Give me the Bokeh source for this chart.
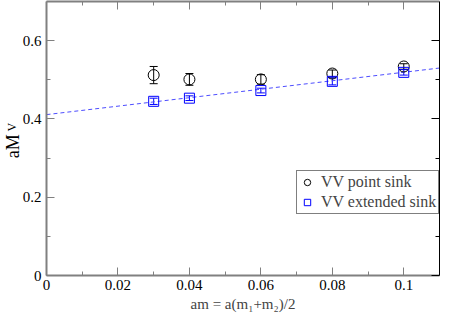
from bokeh.plotting import figure
from bokeh.models import (Range1d, LinearAxis, FixedTicker, Whisker, TeeHead,
                          ColumnDataSource, Legend, LegendItem)
from bokeh.embed import file_html
from bokeh.resources import INLINE

# ---- data ----
am = [0.03, 0.04, 0.06, 0.08, 0.10]
point_sink = [0.512, 0.501, 0.501, 0.516, 0.534]
point_err = [0.022, 0.015, 0.012, 0.009, 0.007]
ext_sink = [0.445, 0.453, 0.4725, 0.496, 0.519]
ext_err = [0.008, 0.006, 0.006, 0.009, 0.007]
fit_x = [0.0, 0.11]
fit_y = [0.411, 0.530]

x_major = [0.0, 0.02, 0.04, 0.06, 0.08, 0.10]
x_minor = [0.01, 0.03, 0.05, 0.07, 0.09]
x_labels = ["0", "0.02", "0.04", "0.06", "0.08", "0.1"]
y_major = [0.0, 0.2, 0.4, 0.6]
y_minor = [0.1, 0.3, 0.5]
y_labels = ["0", "0.2", "0.4", "0.6"]
legend_labels = ["VV point sink", "VV extended sink"]
x_title = "am = a(m\u2081+m\u2082)/2"
y_title_main = "aM"
y_title_sub = "V"

FONT = "Liberation Serif"
GRAY = "#808080"

# layout anchors for the two pieces of the y title (positions along y)
Y_MAIN_POS = 0.33
Y_SUB_POS = 0.379

p = figure(width=452, height=314, output_backend="svg", toolbar_location=None,
           x_range=Range1d(0, 0.11), y_range=Range1d(0, 0.7),
           x_axis_type=None, y_axis_type=None,
           min_border_left=46, min_border_right=13, min_border_top=1,
           min_border_bottom=39)
p.outline_line_color = None
p.xgrid.visible = False
p.ygrid.visible = False
p.background_fill_color = "white"
p.border_fill_color = "white"


def style_axis(ax, ticks, minor, labels, color, width, show_labels):
    ax.ticker = FixedTicker(ticks=ticks, minor_ticks=minor)
    ax.major_label_overrides = {t: l for t, l in zip(ticks, labels)}
    ax.axis_line_color = color
    ax.axis_line_width = width
    ax.major_tick_line_color = color
    ax.minor_tick_line_color = color
    ax.major_tick_in = 8
    ax.major_tick_out = 0
    ax.minor_tick_in = 4
    ax.minor_tick_out = 0
    ax.major_label_text_font = FONT
    if show_labels:
        ax.major_label_text_color = "black"
        ax.major_label_text_font_size = "15px"
        ax.major_label_standoff = 4
    else:
        ax.major_label_text_color = None
        ax.major_label_text_font_size = "0px"
        ax.major_label_standoff = 0


def text_axis(text, pos, size, standoff):
    ax = LinearAxis(ticker=FixedTicker(ticks=[pos], minor_ticks=[]))
    ax.major_label_overrides = {pos: text}
    ax.axis_line_color = None
    ax.major_tick_line_color = None
    ax.minor_tick_line_color = None
    ax.major_tick_out = 0
    ax.major_tick_in = 0
    ax.minor_tick_out = 0
    ax.minor_tick_in = 0
    ax.major_label_orientation = "parallel"
    ax.major_label_text_font = FONT
    ax.major_label_text_font_size = size
    ax.major_label_text_color = "black"
    ax.major_label_standoff = standoff
    return ax


bottom = LinearAxis()
style_axis(bottom, x_major, x_minor, x_labels, GRAY, 2, True)
bottom.axis_label = x_title
bottom.axis_label_text_font = FONT
bottom.axis_label_text_font_style = "normal"
bottom.axis_label_text_font_size = "15px"
bottom.axis_label_standoff = 3
p.add_layout(bottom, "below")

left = LinearAxis()
style_axis(left, y_major, y_minor, y_labels, GRAY, 2, True)
left.major_label_standoff = 5
p.add_layout(left, "left")
# subscript next to the tick labels, main text further out, overlapping bands
p.add_layout(text_axis(y_title_sub, Y_SUB_POS, "12px", 0), "left")
p.add_layout(text_axis(y_title_main, Y_MAIN_POS, "18px", -21), "left")

top = LinearAxis()
style_axis(top, x_major, x_minor, x_labels, GRAY, 2, False)
p.add_layout(top, "above")
right = LinearAxis()
style_axis(right, y_major, y_minor, y_labels, "black", 1, False)
p.add_layout(right, "right")

# fit line
p.line(fit_x, fit_y, line_color="#4d4dff", line_width=1, line_dash="4 3")

# error bars
src_pt = ColumnDataSource(dict(x=am, y=point_sink,
                               lo=[v - e for v, e in zip(point_sink, point_err)],
                               hi=[v + e for v, e in zip(point_sink, point_err)]))
src_ex = ColumnDataSource(dict(x=am, y=ext_sink,
                               lo=[v - e for v, e in zip(ext_sink, ext_err)],
                               hi=[v + e for v, e in zip(ext_sink, ext_err)]))
for src, col in ((src_pt, "black"), (src_ex, "#0000ff")):
    p.add_layout(Whisker(source=src, base="x", lower="lo", upper="hi",
                         line_color=col, line_width=1,
                         lower_head=TeeHead(size=8, line_color=col, line_width=1),
                         upper_head=TeeHead(size=8, line_color=col, line_width=1)))

r_pt = p.scatter("x", "y", source=src_pt, marker="circle", size=11,
                 fill_color=None, line_color="black", line_width=1)
r_ex = p.scatter("x", "y", source=src_ex, marker="square", size=10,
                 fill_color=None, line_color="#0000ff", line_width=1)

legend = Legend(items=[LegendItem(label=legend_labels[0], renderers=[r_pt]),
                       LegendItem(label=legend_labels[1], renderers=[r_ex])],
                location=(250, 61), padding=2, spacing=2, margin=0,
                glyph_width=16, glyph_height=16, label_height=16,
                label_standoff=6, label_text_font=FONT,
                label_text_font_size="16px", border_line_color="black",
                border_line_width=1, background_fill_alpha=1.0)
p.add_layout(legend, "center")

open("out.html", "w").write(file_html(p, INLINE))
